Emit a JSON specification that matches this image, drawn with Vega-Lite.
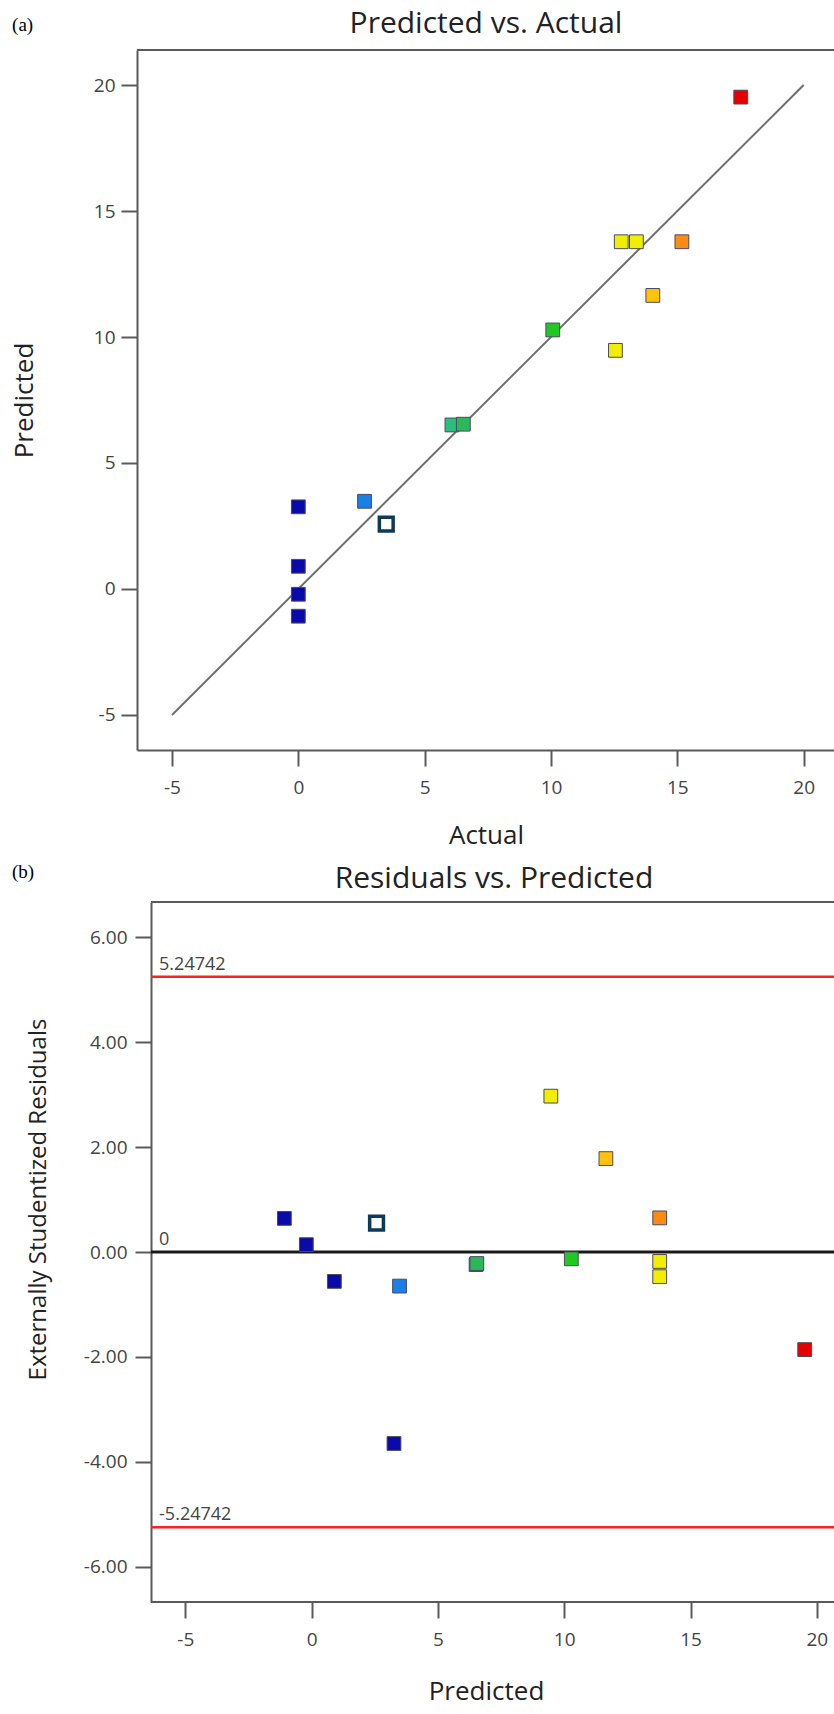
{
  "$schema": "https://vega.github.io/schema/vega-lite/v6.json",
  "background": "white",
  "padding": {"left": 11, "top": 9, "right": 0, "bottom": 6},
  "spacing": 15,
  "config": {
    "font": "Open Sans",
    "view": {"stroke": null},
    "axis": {
      "grid": false,
      "domainColor": "#5a5a5a",
      "domainWidth": 2,
      "tickColor": "#5a5a5a",
      "tickWidth": 2,
      "tickSize": 16,
      "labelFont": "Open Sans",
      "labelFontSize": 19,
      "labelColor": "#444444",
      "labelFlush": false,
      "labelOverlap": false,
      "titleFont": "Open Sans",
      "titleFontSize": 26,
      "titleFontWeight": "normal",
      "titleColor": "#222222"
    },
    "axisX": {"labelPadding": 12, "titlePadding": 25},
    "title": {"font": "Open Sans", "fontSize": 30, "fontWeight": "normal", "color": "#222222", "anchor": "middle", "baseline": "alphabetic"}
  },
  "datasets": {
    "pts": [
      {"actual": 17.51, "predicted": 19.52, "residual": -1.86, "grp": "red"},
      {"actual": 12.78, "predicted": 13.78, "residual": -0.47, "grp": "yellow"},
      {"actual": 13.38, "predicted": 13.78, "residual": -0.18, "grp": "yellow"},
      {"actual": 15.18, "predicted": 13.78, "residual": 0.65, "grp": "orange"},
      {"actual": 14.03, "predicted": 11.65, "residual": 1.78, "grp": "gold"},
      {"actual": 10.07, "predicted": 10.28, "residual": -0.13, "grp": "green"},
      {"actual": 12.55, "predicted": 9.47, "residual": 2.97, "grp": "yellow"},
      {"actual": 6.08, "predicted": 6.51, "residual": -0.24, "grp": "teal"},
      {"actual": 6.53, "predicted": 6.54, "residual": -0.22, "grp": "teal2"},
      {"actual": 2.62, "predicted": 3.48, "residual": -0.65, "grp": "lightblue"},
      {"actual": 3.48, "predicted": 2.57, "residual": 0.55, "grp": "hollow"},
      {"actual": 0.0, "predicted": 3.26, "residual": -3.65, "grp": "darkblue"},
      {"actual": 0.0, "predicted": 0.9, "residual": -0.56, "grp": "darkblue"},
      {"actual": 0.0, "predicted": -0.21, "residual": 0.14, "grp": "darkblue"},
      {"actual": 0.0, "predicted": -1.08, "residual": 0.64, "grp": "darkblue"}
    ]
  },
  "vconcat": [
    {
      "width": 698,
      "height": 700,
      "title": {"text": "Predicted vs. Actual", "offset": -23},
      "layer": [
        {
          "data": {"values": [{}]},
          "mark": {"type": "rule", "color": "#5a5a5a", "strokeWidth": 2},
          "encoding": {"y": {"datum": 21.39}}
        },
        {
          "data": {"values": [{}]},
          "mark": {"type": "rule", "color": "#6e6e6e", "strokeWidth": 2},
          "encoding": {
            "x": {"datum": -5},
            "y": {"datum": -5},
            "x2": {"datum": 20},
            "y2": {"datum": 20}
          }
        },
        {
          "data": {"name": "pts"},
          "mark": {"type": "square", "size": 190, "filled": true, "opacity": 1},
          "encoding": {
            "x": {
              "field": "actual",
              "type": "quantitative",
              "scale": {"domain": [-6.385, 21.24], "nice": false, "zero": false},
              "axis": {"title": "Actual", "values": [-5, 0, 5, 10, 15, 20], "labelExpr": "'' + datum.value"}
            },
            "y": {
              "field": "predicted",
              "type": "quantitative",
              "scale": {"domain": [-6.39, 21.39], "nice": false, "zero": false},
              "axis": {"title": "Predicted", "values": [-5, 0, 5, 10, 15, 20], "labelExpr": "'' + datum.value", "labelPadding": 6, "titlePadding": 56}
            },
            "fill": {
              "field": "grp",
              "type": "nominal",
              "legend": null,
              "scale": {
                "domain": ["darkblue", "lightblue", "hollow", "teal", "teal2", "green", "yellow", "gold", "orange", "red"],
                "range": ["#0a0aa8", "#1a80e8", "#ffffff", "#28c07c", "#2cb85a", "#22c822", "#f2ee00", "#ffc30a", "#ff8c10", "#e60000"]
              }
            },
            "stroke": {"condition": {"test": "datum.grp === 'hollow'", "value": "#0e3a5a"}, "value": "#4a4a60"},
            "strokeWidth": {"condition": {"test": "datum.grp === 'hollow'", "value": 3.5}, "value": 1}
          }
        },
        {
          "data": {"values": [{}]},
          "mark": {"type": "text", "font": "Liberation Serif", "fontSize": 19, "color": "#000000", "align": "left", "baseline": "middle"},
          "encoding": {
            "x": {"datum": -11.33},
            "y": {"datum": 22.37},
            "text": {"value": "(a)"}
          }
        }
      ]
    },
    {
      "width": 698,
      "height": 700,
      "title": {"text": "Residuals vs. Predicted", "offset": -31, "dx": 8},
      "layer": [
        {
          "data": {"values": [{}]},
          "mark": {"type": "rule", "color": "#5a5a5a", "strokeWidth": 2},
          "encoding": {"y": {"datum": 6.67}, "x": {"datum": -6.36}, "x2": {"datum": 20.72}}
        },
        {
          "data": {"values": [{}]},
          "mark": {"type": "rule", "color": "#5a5a5a", "strokeWidth": 2},
          "encoding": {"y": {"datum": -6.67}, "x": {"datum": -6.36}, "x2": {"datum": 20.72}}
        },
        {
          "data": {"values": [{"lim": 5.24742, "lab": "5.24742"}, {"lim": -5.24742, "lab": "-5.24742"}]},
          "mark": {"type": "rule", "color": "#ff2020", "strokeWidth": 2.5},
          "encoding": {"y": {"field": "lim", "type": "quantitative"}, "x": {"datum": -6.36}, "x2": {"datum": 20.72}}
        },
        {
          "data": {"values": [{"lim": 5.24742, "lab": "5.24742"}, {"lim": -5.24742, "lab": "-5.24742"}, {"lim": 0, "lab": "0"}]},
          "mark": {"type": "text", "fontSize": 18, "color": "#444444", "align": "left", "baseline": "bottom", "dy": -3},
          "encoding": {
            "x": {"datum": -6.04},
            "y": {"field": "lim", "type": "quantitative"},
            "text": {"field": "lab"}
          }
        },
        {
          "data": {"values": [{}]},
          "mark": {"type": "rule", "color": "#1a1a1a", "strokeWidth": 3},
          "encoding": {"y": {"datum": 0}, "x": {"datum": -6.36}, "x2": {"datum": 20.72}}
        },
        {
          "data": {"name": "pts"},
          "mark": {"type": "square", "size": 190, "filled": true, "opacity": 1},
          "encoding": {
            "x": {
              "field": "predicted",
              "type": "quantitative",
              "scale": {"domain": [-6.914, 20.72], "nice": false, "zero": false},
              "axis": {"title": "Predicted", "values": [-5, 0, 5, 10, 15, 20], "labelExpr": "'' + datum.value", "domain": false, "titlePadding": 29}
            },
            "y": {
              "field": "residual",
              "type": "quantitative",
              "scale": {"domain": [-6.67, 6.67], "nice": false, "zero": false},
              "axis": {"title": "Externally Studentized Residuals", "titleFontSize": 24, "titleY": 297, "offset": -14, "values": [-6, -4, -2, 0, 2, 4, 6], "labelExpr": "replace(format(datum.value, '.2f'), '\u2212', '-')", "labelPadding": 8, "titlePadding": 33}
            },
            "fill": {
              "field": "grp",
              "type": "nominal",
              "legend": null,
              "scale": {
                "domain": ["darkblue", "lightblue", "hollow", "teal", "teal2", "green", "yellow", "gold", "orange", "red"],
                "range": ["#0a0aa8", "#1a80e8", "#ffffff", "#28c07c", "#2cb85a", "#22c822", "#f2ee00", "#ffc30a", "#ff8c10", "#e60000"]
              }
            },
            "stroke": {"condition": {"test": "datum.grp === 'hollow'", "value": "#0e3a5a"}, "value": "#4a4a60"},
            "strokeWidth": {"condition": {"test": "datum.grp === 'hollow'", "value": 3.5}, "value": 1}
          }
        },
        {
          "data": {"values": [{}]},
          "mark": {"type": "text", "font": "Liberation Serif", "fontSize": 19, "color": "#000000", "align": "left", "baseline": "middle"},
          "encoding": {
            "x": {"datum": -11.862},
            "y": {"datum": 7.241},
            "text": {"value": "(b)"}
          }
        }
      ]
    }
  ]
}
